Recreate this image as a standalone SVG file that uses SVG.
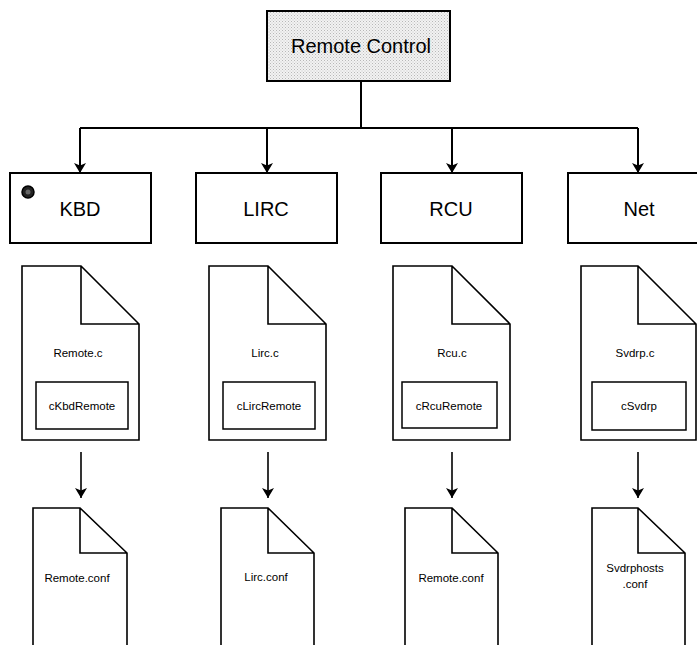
<svg xmlns="http://www.w3.org/2000/svg" width="697" height="645" viewBox="0 0 697 645">
  <defs>
    <!-- stipple fill used on the root box and the KBD marker dot -->
    <pattern id="stipple" width="3" height="3" patternUnits="userSpaceOnUse">
      <rect width="3" height="3" fill="#f2f2f2"/>
      <rect x="0" y="0" width="1" height="1" fill="#b8b8b8"/>
      <rect x="1.5" y="1.5" width="1" height="1" fill="#c8c8c8"/>
    </pattern>
    <marker id="arrow" viewBox="0 0 10 12" refX="10" refY="6" markerWidth="10" markerHeight="12" markerUnits="userSpaceOnUse" orient="auto">
      <path d="M0,0 L10,6 L0,12 L2.5,6 Z" fill="#000"/>
    </marker>
  </defs>
  <style>
    .box { fill: #fff; stroke: #000; stroke-width: 2; }
    .root { fill: url(#stipple); stroke: #000; stroke-width: 2; }
    .doc { fill: #fff; stroke: #000; stroke-width: 1.6; stroke-linejoin: miter; }
    .inner { fill: #fff; stroke: #000; stroke-width: 1.5; }
    .big { font-family: "Liberation Sans", Arial, sans-serif; font-size: 20px; fill: #000; text-anchor: middle; }
    .small { font-family: "Liberation Sans", Arial, sans-serif; font-size: 11.5px; fill: #000; text-anchor: middle; }
    .wire { fill: none; stroke: #000; stroke-width: 2; }
    .wire-thin { fill: none; stroke: #000; stroke-width: 1.6; }
  </style>

  <rect width="697" height="645" fill="#fff"/>

  <!-- connectors -->
  <g id="connectors">
    <path class="wire" d="M361,81 V128"/>
    <path class="wire" d="M80,128 H638"/>
    <path class="wire" d="M80,128 V173" marker-end="url(#arrow)"/>
    <path class="wire" d="M267,128 V173" marker-end="url(#arrow)"/>
    <path class="wire" d="M452,128 V173" marker-end="url(#arrow)"/>
    <path class="wire" d="M638,128 V173" marker-end="url(#arrow)"/>
    <path class="wire-thin" d="M81,452 V498" marker-end="url(#arrow)"/>
    <path class="wire-thin" d="M268,452 V498" marker-end="url(#arrow)"/>
    <path class="wire-thin" d="M452,452 V498" marker-end="url(#arrow)"/>
    <path class="wire-thin" d="M638,452 V498" marker-end="url(#arrow)"/>
  </g>

  <!-- root -->
  <g id="remote-control">
    <rect class="root" x="267" y="11" width="183" height="70"/>
    <text class="big" x="361" y="53">Remote Control</text>
  </g>

  <!-- interface boxes -->
  <g id="kbd">
    <rect class="box" x="10" y="173" width="141" height="70"/>
    <circle cx="28" cy="192" r="6" fill="#222" stroke="#000" stroke-width="1.5"/>
    <circle cx="28" cy="192" r="2.5" fill="#666"/>
    <text class="big" x="80" y="216">KBD</text>
  </g>
  <g id="lirc">
    <rect class="box" x="196" y="173" width="141" height="70"/>
    <text class="big" x="266" y="216">LIRC</text>
  </g>
  <g id="rcu">
    <rect class="box" x="381" y="173" width="141" height="70"/>
    <text class="big" x="451" y="216">RCU</text>
  </g>
  <g id="net">
    <rect class="box" x="568" y="173" width="141" height="70"/>
    <text class="big" x="639" y="216">Net</text>
  </g>

  <!-- source files -->
  <g id="remote-c">
    <path class="doc" d="M22,266 H81 L139,324 V440 H22 Z M81,266 V324 H139"/>
    <text class="small" x="78" y="357">Remote.c</text>
    <rect class="inner" x="36" y="382" width="92" height="47"/>
    <text class="small" x="82" y="410">cKbdRemote</text>
  </g>
  <g id="lirc-c">
    <path class="doc" d="M209,266 H268 L326,324 V440 H209 Z M268,266 V324 H326"/>
    <text class="small" x="265" y="357">Lirc.c</text>
    <rect class="inner" x="223" y="382" width="92" height="47"/>
    <text class="small" x="269" y="410">cLircRemote</text>
  </g>
  <g id="rcu-c">
    <path class="doc" d="M393,266 H452 L510,324 V440 H393 Z M452,266 V324 H510"/>
    <text class="small" x="452" y="357">Rcu.c</text>
    <rect class="inner" x="402" y="382" width="95" height="46"/>
    <text class="small" x="449" y="410">cRcuRemote</text>
  </g>
  <g id="svdrp-c">
    <path class="doc" d="M581,266 H638 L696,324 V440 H581 Z M638,266 V324 H696"/>
    <text class="small" x="635" y="357">Svdrp.c</text>
    <rect class="inner" x="592" y="382" width="94" height="48"/>
    <text class="small" x="639" y="410">cSvdrp</text>
  </g>

  <!-- configuration files -->
  <g id="remote-conf-kbd">
    <path class="doc" d="M33,508 H80 L127,553 V650 H33 Z M80,508 V553 H127"/>
    <text class="small" x="77" y="582">Remote.conf</text>
  </g>
  <g id="lirc-conf">
    <path class="doc" d="M221,508 H268 L314,553 V650 H221 Z M268,508 V553 H314"/>
    <text class="small" x="266" y="581">Lirc.conf</text>
  </g>
  <g id="remote-conf-rcu">
    <path class="doc" d="M405,508 H452 L498,553 V650 H405 Z M452,508 V553 H498"/>
    <text class="small" x="451" y="582">Remote.conf</text>
  </g>
  <g id="svdrphosts-conf">
    <path class="doc" d="M592,508 H638 L685,553 V650 H592 Z M638,508 V553 H685"/>
    <text class="small" x="635" y="572">Svdrphosts</text>
    <text class="small" x="635" y="588">.conf</text>
  </g>
</svg>
